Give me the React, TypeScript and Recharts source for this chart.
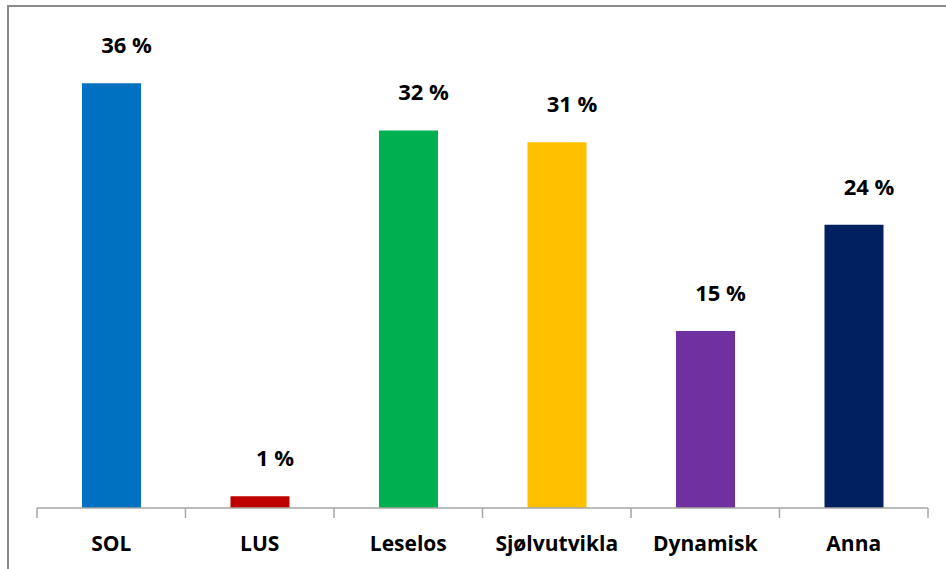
import React from 'react';
import { BarChart, Bar, XAxis, YAxis, Cell, LabelList } from 'recharts';

const categories = ['SOL', 'LUS', 'Leselos', 'Sjølvutvikla', 'Dynamisk', 'Anna'];
const shares = [36, 1, 32, 31, 15, 24];
const barColors = ['#0070C0', '#C00000', '#00B050', '#FFC000', '#7030A0', '#002060'];

const data = categories.map((name, i) => ({ name, value: shares[i] }));

const FONT = '"Open Sans", Lato, "Liberation Sans", sans-serif';
const AXIS_GREY = '#a6a6a6';

// category label plus the small marks on the category edges (Excel style)
const CategoryTick = (props: any) => {
    const { x, y, payload, index, width, visibleTicksCount } = props;
    const step = width / visibleTicksCount;
    const left = x - step / 2;
    const right = x + step / 2;
    return (
        <g>
            <line x1={left} x2={left} y1={y} y2={y + 10} stroke={AXIS_GREY} strokeWidth={1.5} />
            {index === visibleTicksCount - 1 && (
                <line x1={right} x2={right} y1={y} y2={y + 10} stroke={AXIS_GREY} strokeWidth={1.5} />
            )}
            <text x={x} y={y + 43} textAnchor="middle" fontFamily={FONT} fontWeight="bold" fontSize={21} fill="#000">
                {payload.value}
            </text>
        </g>
    );
};

const ValueLabel = (props: any) => {
    const { x, y, width, value } = props;
    return (
        <text x={x + width / 2 + 15} y={y - 30} textAnchor="middle" fontFamily={FONT} fontWeight="bold" fontSize={22} fill="#000">
            {value} %
        </text>
    );
};

const App: React.FC = () => {
    return (
        <div style={{ position: 'absolute', left: 0, top: 0, width: 946, height: 569, overflow: 'hidden', background: '#fff' }}>
            <div style={{ position: 'absolute', left: 7, top: 5, width: 1000, height: 700, borderTop: '2px solid #8a8a8a', borderLeft: '2px solid #8a8a8a' }} />
            <div style={{ position: 'absolute', left: 0, top: 0 }}>
                <BarChart width={946} height={569} data={data} margin={{ top: 36, right: 18, bottom: 21, left: 37 }}>
                    <XAxis
                        dataKey="name"
                        height={40}
                        axisLine={{ stroke: AXIS_GREY, strokeWidth: 1.5 }}
                        tickLine={false}
                        tickSize={0}
                        tickMargin={0}
                        tick={<CategoryTick />}
                        interval={0}
                    />
                    <YAxis hide domain={[0, 40]} />
                    <Bar dataKey="value" barSize={59} isAnimationActive={false}>
                        {data.map((d, i) => (
                            <Cell key={d.name} fill={barColors[i]} />
                        ))}
                        <LabelList dataKey="value" content={<ValueLabel />} />
                    </Bar>
                </BarChart>
            </div>
        </div>
    );
};

export default App;
